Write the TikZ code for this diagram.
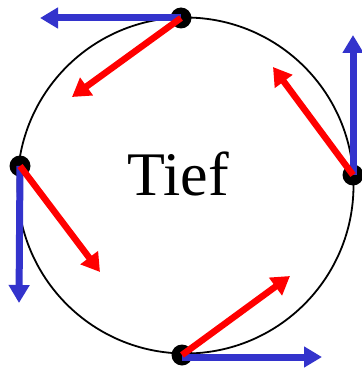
\documentclass[tikz,border=0pt]{standalone}
\usepackage{fontspec}
\setmainfont{Liberation Serif}
\usetikzlibrary{arrows.meta}
\definecolor{velblue}{RGB}{51,51,204}
\begin{document}
\begin{tikzpicture}[x=1pt,y=-1pt,
  dot/.style={circle,fill,inner sep=0pt,minimum size=21pt},
  vel/.style={draw=velblue,line width=7pt,-{Triangle[length=18pt,width=20pt]},fill=velblue},
  acc/.style={draw=red,line width=6.5pt,-{Triangle[length=18pt,width=21pt]},fill=red}]
 \useasboundingbox (0,0) rectangle (361,369);
 \draw[line width=1.8pt] (185.5,185.5) circle[radius=168];
 \node[font=\fontsize{62}{70}\selectfont,anchor=base] (lbl) at (178.5,195) {Tief};
 \node[dot] (top) at (181,18) {};
 \node[dot] (rgt) at (353,175) {};
 \node[dot] (lft) at (20,166) {};
 \node[dot] (bot) at (182,355) {};
 \coordinate (topv) at (40,18); \coordinate (topa) at (72,97);
 \coordinate (rgtv) at (353,35); \coordinate (rgta) at (273,67);
 \coordinate (lftv) at (19,303); \coordinate (lfta) at (100,272);
 \coordinate (botv) at (322,357); \coordinate (bota) at (290,276);
 \draw[vel] (top.center) -- (topv);
 \draw[vel] (rgt.center) -- (rgtv);
 \draw[vel] (lft.center) -- (lftv);
 \draw[vel] (bot.center|-botv) -- (botv);
 \draw[acc] (top.center) -- (topa);
 \draw[acc] (rgt.center) -- (rgta);
 \draw[acc] (lft.center) -- (lfta);
 \draw[acc] (bot.center) -- (bota);
\end{tikzpicture}
\end{document}
